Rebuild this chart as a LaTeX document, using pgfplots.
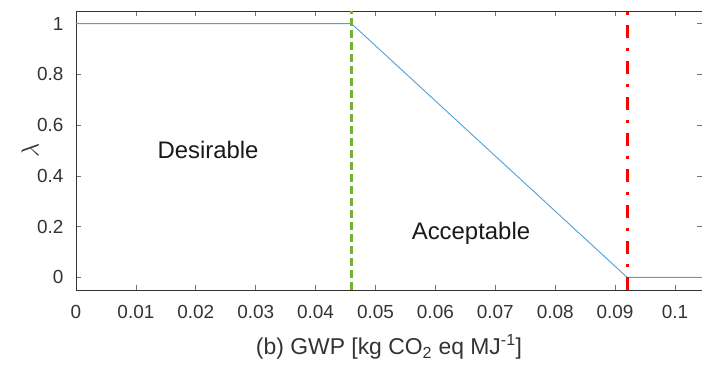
\documentclass[border=0pt]{standalone}
\usepackage{pgfplots}
\pgfplotsset{compat=1.18}
\usepackage{fontspec}
\setmainfont{Liberation Sans}
\definecolor{mblue}{RGB}{80,160,215}
\definecolor{mgreen}{RGB}{112,178,52}
\definecolor{axgray}{RGB}{50,50,50}
\begin{document}
\begin{tikzpicture}
\begin{axis}[
  scale only axis, width=626bp, height=279bp,
  xmin=0, xmax=0.10451, ymin=-0.05, ymax=1.05,
  xtick={0,0.01,0.02,0.03,0.04,0.05,0.06,0.07,0.08,0.09,0.1},
  xticklabels={0,0.01,0.02,0.03,0.04,0.05,0.06,0.07,0.08,0.09,0.1},
  ytick={0,0.2,0.4,0.6,0.8,1},
  yticklabels={0,0.2,0.4,0.6,0.8,1},
  tick align=inside, major tick length=5bp,
  axis line style={axgray, line width=0.7bp},
  tick style={black!55, line width=0.7bp},
  ticklabel style={font=\fontsize{19}{21}\selectfont, text=black!80},
  xticklabel style={yshift=-12bp},
  yticklabel style={xshift=-9bp},
  label style={font=\fontsize{23}{25}\selectfont, text=black!80},
  xlabel={(b) GWP [kg CO\textsubscript{2} eq MJ\textsuperscript{-1}]},
  ylabel={\fontsize{24}{26}\selectfont$\lambda$},
  xlabel style={at={(axis description cs:0.5,0)}, anchor=center, yshift=-57bp},
  ylabel style={at={(axis description cs:0,0.5)}, anchor=center, yshift=46bp},
]
\addplot[mblue, line width=0.9bp] coordinates {(0,1) (0.046,1) (0.092,0) (0.105,0)};
\addplot[mgreen, line width=2.6bp, dash pattern=on 8bp off 4bp] coordinates {(0.046,-0.05) (0.046,1.05)};
\addplot[red, line width=3bp, dash pattern=on 13bp off 10bp on 3bp off 10bp] coordinates {(0.092,-0.05) (0.092,1.05)};
\node[font=\fontsize{24}{26}\selectfont, text=black!90] at (axis cs:0.02204,0.502) {Desirable};
\node[font=\fontsize{24}{26}\selectfont, text=black!90] at (axis cs:0.06594,0.174) {Acceptable};
\end{axis}
\pgfresetboundingbox
\path[use as bounding box] ([shift={(-76bp,-78bp)}]current axis.south west) rectangle ([shift={(0bp,11bp)}]current axis.north east);
\end{tikzpicture}
\end{document}
